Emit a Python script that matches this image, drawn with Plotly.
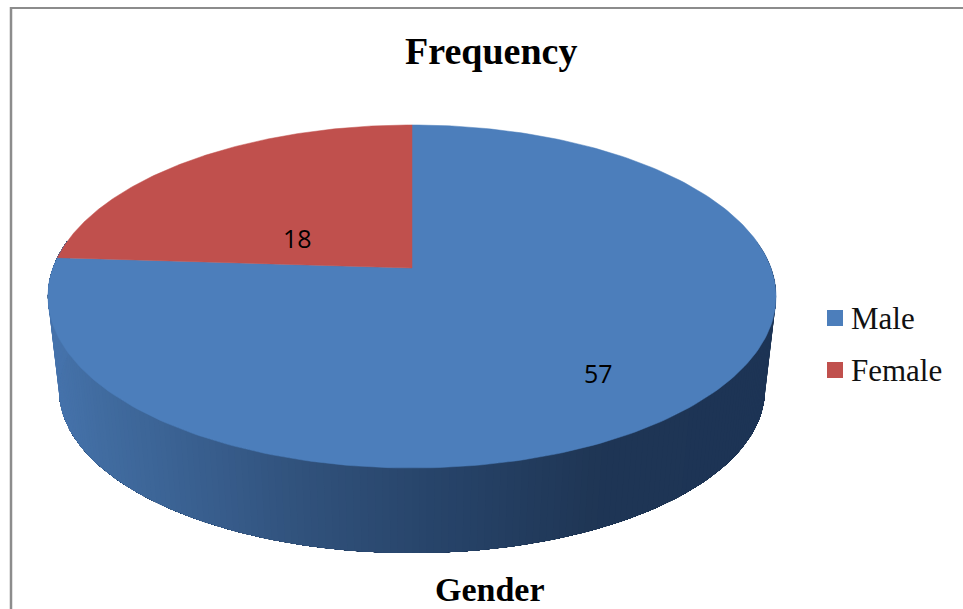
import numpy as np
import plotly.graph_objects as go

categories = ["Male", "Female"]
values = [57, 18]
colors = ["#4c7ebb", "#c0504d"]
title_text = "Frequency"
axis_label = "Gender"

W, H = 963, 609
CX, KP = 412.0, 0.166            # centre, perspective strength
TOP = dict(y0=268.0, a=166.8, b=359.0)
BOT = dict(y0=363.0, a=158.5, b=348.0)


def project(angle, disc, r=1.0):
    """angle: radians clockwise from 12 o'clock on the (flat) pie disc."""
    u, v = r * np.sin(angle), r * np.cos(angle)
    w = 1 + KP * v
    return CX + disc["b"] * u / w, disc["y0"] - disc["a"] * v / w


fig = go.Figure()

# Side wall: overlapping strips along the front half of the rim, painted from
# right to left, so that each one hides the seam of the one before it
stops_x = [48, 100, 200, 300, 430, 600, 776]
stops_rgb = np.array([[70, 115, 172], [65, 108, 160], [57, 95, 143],
                      [49, 82, 124], [40, 69, 107], [31, 54, 85], [29, 52, 86]])
start = np.pi / 2 - np.arcsin(KP)
end = 3 * np.pi / 2 + np.arcsin(KP)
edges = np.linspace(start, end, 201)
for a0, a1 in zip(edges[:-1], edges[1:]):
    seg = np.linspace(a0, end, 2 + int((end - a0) * 40))
    xt, yt = project(seg, TOP)
    xb, yb = project(seg, BOT)
    mid_x = project((a0 + a1) / 2, TOP)[0]
    rgb = [int(np.interp(mid_x, stops_x, stops_rgb[:, i])) for i in range(3)]
    col = f"rgb({rgb[0]},{rgb[1]},{rgb[2]})"
    fig.add_trace(go.Scatter(
        x=np.r_[xt, xb[::-1]], y=np.r_[yt, yb[::-1]], mode="lines", fill="toself",
        fillcolor=col, line=dict(width=0), hoverinfo="skip", showlegend=False))

# Top surface wedges, from the values
total = sum(values)
cursor = 0.0
for name, val, col in zip(categories, values, colors):
    th = np.linspace(cursor, cursor + val / total * 2 * np.pi, 240)
    x, y = project(th, TOP)
    ax, ay = project(0.0, TOP, 0.0)
    fig.add_trace(go.Scatter(
        x=np.r_[ax, x, ax], y=np.r_[ay, y, ay], mode="lines", fill="toself",
        fillcolor=col, line=dict(color=col, width=0.5), name=name, showlegend=False))
    cursor += val / total * 2 * np.pi

# Legend swatches
fig.add_trace(go.Scatter(
    x=[835, 835], y=[318, 370], mode="markers", cliponaxis=False,
    marker=dict(symbol="square", size=16, color=colors, line=dict(width=0)),
    hoverinfo="skip", showlegend=False))

legend_font = dict(family="Liberation Serif", size=31, color="#111111")
fig.update_layout(
    width=W, height=H, margin=dict(l=0, r=0, t=0, b=0),
    paper_bgcolor="white", plot_bgcolor="white", showlegend=False,
    xaxis=dict(range=[0, W], visible=False, fixedrange=True),
    yaxis=dict(range=[H, 0], visible=False, fixedrange=True),
    shapes=[
        dict(type="line", x0=10.5, x1=963, y0=8, y1=8, line=dict(color="#8c8c8c", width=2)),
        dict(type="line", x0=11, x1=11, y0=7, y1=609, line=dict(color="#8c8c8c", width=2.5)),
    ],
    annotations=[
        dict(x=491, y=51, text=title_text, showarrow=False,
             font=dict(family="Liberation Serif", size=38, color="black", weight="bold")),
        dict(x=490, y=589, text=axis_label, showarrow=False,
             font=dict(family="Liberation Serif", size=34, color="black", weight="bold")),
        dict(x=598, y=373, text=str(values[0]), showarrow=False,
             font=dict(family="Open Sans", size=25, color="black")),
        dict(x=297, y=238, text=str(values[1]), showarrow=False,
             font=dict(family="Open Sans", size=25, color="black")),
        dict(x=849, y=318, text=categories[0], showarrow=False, xanchor="left", font=legend_font),
        dict(x=849, y=370, text=categories[1], showarrow=False, xanchor="left", font=legend_font),
    ],
)
fig.write_html("out.html", config=dict(displayModeBar=False),
               post_script="document.body.style.margin='0';document.documentElement.style.overflow='hidden';")
